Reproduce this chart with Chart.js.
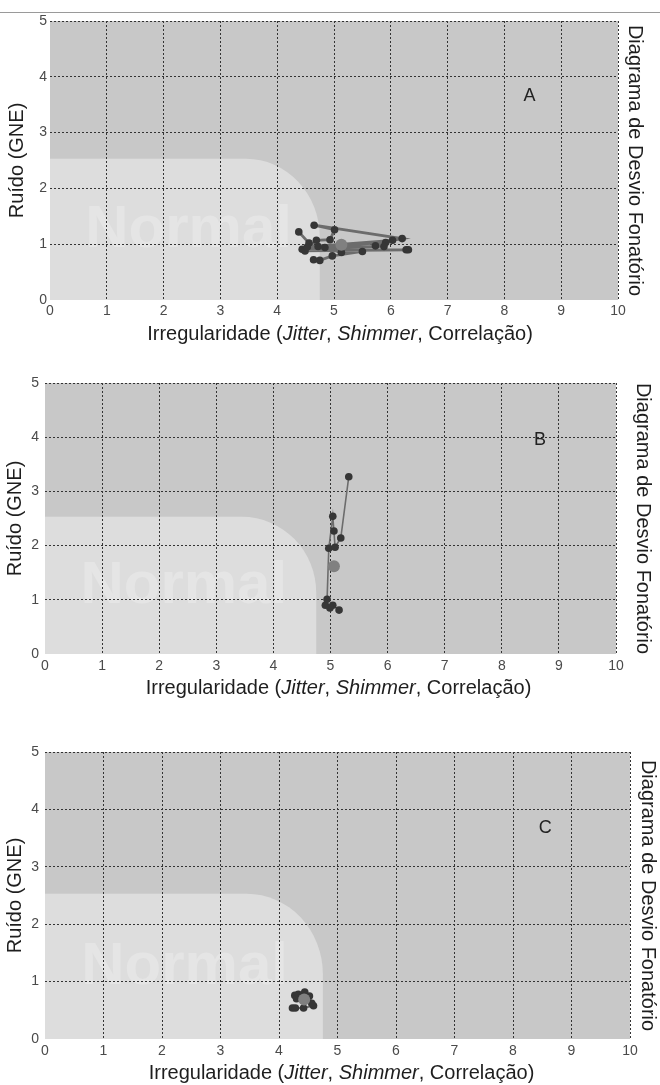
<!DOCTYPE html>
<html><head><meta charset="utf-8">
<script src="https://cdn.jsdelivr.net/npm/chart.js@4/dist/chart.umd.min.js"></script>
<style>
html,body{margin:0;padding:0;background:#fff;}
body{width:660px;height:1085px;position:relative;overflow:hidden;}
.rule{position:absolute;left:0;top:12px;width:660px;height:1px;background:#9a9a9a;}
canvas{position:absolute;left:0;}
</style></head><body>
<div class="rule"></div>
<canvas id="cA" width="660" height="360" style="top:0px"></canvas>
<canvas id="cB" width="660" height="360" style="top:362px"></canvas>
<canvas id="cC" width="660" height="355" style="top:730px"></canvas>
<script>
// ---- tick labels / texts ----
const xTicks = [0,1,2,3,4,5,6,7,8,9,10];
const yTicks = [0,1,2,3,4,5];
const yTitle = 'Ruído (GNE)';
const rightTitle = 'Diagrama de Desvio Fonatório';
const xTitleParts = ['Irregularidade (', 'Jitter', ', ', 'Shimmer', ', Correlação)'];
const xTitleItalic = [false, true, false, true, false];
const normalLabel = 'Normal';
const normalZone = [4.75, 2.53];     // extent of the "Normal" area (x, y)
const normalCorner = [1.3, 1.4];     // rounded corner radii (x, y units)
const normalTextPos = [0.62, 0.95];
const panelLetters = ['A', 'B', 'C'];
const letterPosA = [8.44, 3.65];
const letterPosB = [8.67, 3.94];
const letterPosC = [8.55, 3.68];

// ---- panel A ----
const aX = [4.38,4.56,4.44,6.27,6.31,4.49,4.69,4.93,5.01,4.65,6.20,6.03,4.53,4.72,5.91,5.73,5.88,4.84,5.13,5.50,4.97,4.75,4.64];
const aY = [1.22,1.02,0.91,0.90,0.90,0.88,1.07,1.08,1.26,1.34,1.10,1.07,0.95,0.96,1.03,0.97,0.96,0.94,0.85,0.87,0.79,0.71,0.72];
const aMean = [5.13, 0.99];
// ---- panel B ----
const bX = [5.15,5.04,4.99,4.91,4.94,4.97,5.04,5.06,5.08,5.18,5.32];
const bY = [0.81,0.90,0.85,0.90,1.01,1.95,2.54,2.27,1.97,2.14,3.27];
const bMean = [5.06, 1.62];
// ---- panel C ----
const cX = [4.23,4.28,4.42,4.59,4.56,4.52,4.44,4.33,4.27,4.30];
const cY = [0.54,0.54,0.54,0.58,0.62,0.75,0.82,0.78,0.76,0.70];
const cMean = [4.43, 0.69];

const FONT = '"Liberation Sans", Arial, Helvetica, sans-serif';

const deco = {
  id: 'deco',
  beforeDraw(chart, args, o) {
    const {ctx, chartArea: a, scales: {x, y}} = chart;
    ctx.save();
    ctx.fillStyle = '#c8c8c8';
    ctx.fillRect(a.left, a.top, a.width, a.height);
    const xr = x.getPixelForValue(normalZone[0]);
    const yt = y.getPixelForValue(normalZone[1]);
    const rx = x.getPixelForValue(normalCorner[0]) - x.getPixelForValue(0);
    const ry = y.getPixelForValue(0) - y.getPixelForValue(normalCorner[1]);
    ctx.beginPath();
    ctx.moveTo(a.left, a.bottom);
    ctx.lineTo(a.left, yt);
    ctx.lineTo(xr - rx, yt);
    ctx.ellipse(xr - rx, yt + ry, rx, ry, 0, -Math.PI / 2, 0);
    ctx.lineTo(xr, a.bottom);
    ctx.closePath();
    ctx.fillStyle = '#dddddd';
    ctx.fill();
    ctx.font = 'bold 60px ' + FONT;
    ctx.fillStyle = 'rgba(255,255,255,0.24)';
    ctx.textAlign = 'left';
    ctx.textBaseline = 'alphabetic';
    ctx.fillText(normalLabel, x.getPixelForValue(normalTextPos[0]), y.getPixelForValue(normalTextPos[1]));
    ctx.restore();
  },
  afterDraw(chart, args, o) {
    const {ctx, chartArea: a, scales: {x, y}} = chart;
    ctx.save();
    // panel letter
    ctx.font = '18px ' + FONT;
    ctx.fillStyle = '#222';
    ctx.textAlign = 'center';
    ctx.textBaseline = 'middle';
    ctx.fillText(o.letter, x.getPixelForValue(o.letterPos[0]), y.getPixelForValue(o.letterPos[1]));
    // x title with italic parts
    const fonts = xTitleItalic.map(it => (it ? 'italic ' : '') + o.titleSize + 'px ' + FONT);
    let total = 0;
    const widths = xTitleParts.map((t, i) => { ctx.font = fonts[i]; const w = ctx.measureText(t).width; total += w; return w; });
    let cx = (a.left + a.right) / 2 + o.titleShift - total / 2;
    ctx.textAlign = 'left';
    ctx.textBaseline = 'alphabetic';
    ctx.fillStyle = '#1e1e1e';
    xTitleParts.forEach((t, i) => { ctx.font = fonts[i]; ctx.fillText(t, cx, a.bottom + o.titleBase); cx += widths[i]; });
    ctx.restore();
  }
};

function makeChart(id, xs, ys, mean, letter, letterPos, L) {
  const pts = xs.map((v, i) => ({x: v, y: ys[i]}));
  const gridColor = c => (c.tick && c.tick.value === 0) ? 'rgba(0,0,0,0)' : '#333';
  return new Chart(document.getElementById(id), {
    type: 'scatter',
    data: {
      datasets: [
        {data: [{x: mean[0], y: mean[1]}], pointRadius: L.meanR, pointBackgroundColor: '#808080',
         pointBorderWidth: 0, showLine: false, order: 0},
        {data: pts, showLine: true, borderColor: '#6c6c6c', borderWidth: L.lineW,
         pointRadius: L.ptR, pointBackgroundColor: '#363636', pointBorderColor: '#363636',
         pointBorderWidth: 0, order: 1}
      ]
    },
    options: {
      responsive: false, animation: false, events: [],
      layout: {padding: {top: L.top, left: 0, right: 0, bottom: 0}},
      plugins: {legend: {display: false}, tooltip: {enabled: false},
        deco: {letter, letterPos, titleSize: L.titleSize, titleBase: L.titleBase, titleShift: L.titleShift}},
      scales: {
        x: {type: 'linear', min: 0, max: 10, position: 'bottom',
            afterBuildTicks: s => { s.ticks = xTicks.map(v => ({value: v})); },
            afterFit: s => { s.height = L.xAxisH; },
            grid: {color: gridColor, lineWidth: 1, drawTicks: false},
            border: {display: false, dash: [2, 2]},
            ticks: {color: '#4a4a4a', padding: L.xTickPad, font: {family: FONT, size: 14}, maxRotation: 0}},
        y: {type: 'linear', min: 0, max: 5, position: 'left',
            afterBuildTicks: s => { s.ticks = yTicks.map(v => ({value: v})); },
            afterFit: s => { s.width = L.left; },
            grid: {color: gridColor, lineWidth: 1, drawTicks: false},
            border: {display: false, dash: [2, 2]},
            ticks: {color: '#4a4a4a', padding: L.yTickPad, font: {family: FONT, size: 14}},
            title: {display: true, text: yTitle, color: '#1e1e1e', font: {family: FONT, size: L.titleSize},
                    padding: {top: L.yTitleOff - L.titleSize * 0.6, bottom: 0}}},
        yR: {type: 'linear', min: 0, max: 5, position: 'right',
            afterFit: s => { s.width = L.right; },
            grid: {display: false, drawTicks: false}, border: {display: false},
            ticks: {display: false},
            title: {display: true, text: rightTitle, color: '#1e1e1e', font: {family: FONT, size: L.titleSize},
                    padding: {top: L.rTitleOff - L.titleSize * 0.6, bottom: 0}}}
      }
    },
    plugins: [deco]
  });
}

makeChart('cA', aX, aY, aMean, panelLetters[0], letterPosA,
  {top: 21, xAxisH: 60, left: 50, right: 42, yTickPad: 3, xTickPad: 3, yTitleOff: 17.5, rTitleOff: 25,
   titleSize: 20, titleBase: 40, titleShift: 6, lineW: 2.8, ptR: 3.8, meanR: 6});
makeChart('cB', bX, bY, bMean, panelLetters[1], letterPosB,
  {top: 21, xAxisH: 68, left: 45, right: 44, yTickPad: 6, xTickPad: 4, yTitleOff: 15.5, rTitleOff: 17,
   titleSize: 20, titleBase: 40, titleShift: 8, lineW: 1.6, ptR: 3.8, meanR: 6});
makeChart('cC', cX, cY, cMean, panelLetters[2], letterPosC,
  {top: 22, xAxisH: 46, left: 45, right: 30, yTickPad: 6, xTickPad: 4, yTitleOff: 15.5, rTitleOff: 12,
   titleSize: 20, titleBase: 40, titleShift: 4, lineW: 2, ptR: 3.8, meanR: 6});
</script>
</body></html>
